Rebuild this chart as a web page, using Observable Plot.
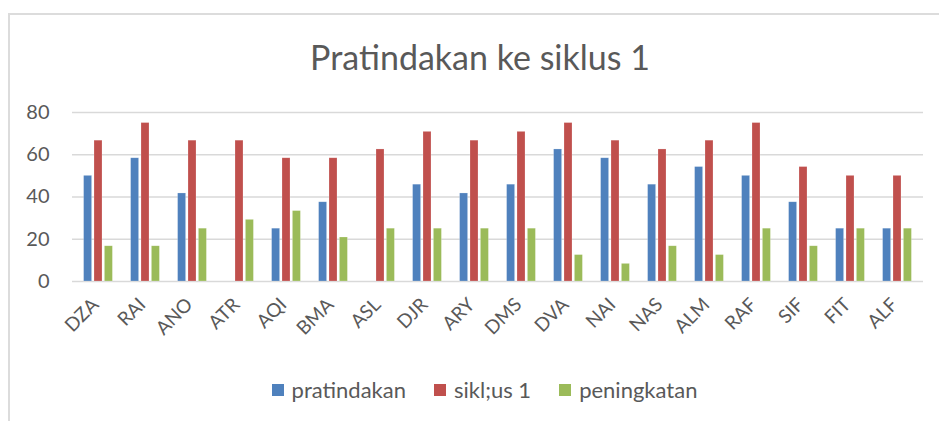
<!DOCTYPE html>
<html>
<head>
<meta charset="utf-8">
<script src="https://cdn.jsdelivr.net/npm/d3@7"></script>
<script src="https://cdn.jsdelivr.net/npm/@observablehq/plot@0.6"></script>
<style>
  html, body { margin: 0; padding: 0; background: #fff; }
  #wrap { position: relative; width: 939px; height: 421px; overflow: hidden; font-family: Lato, sans-serif; color: #595959; }
  #frame { position: absolute; left: 8px; top: 13px; width: 1000px; height: 500px; border-left: 2px solid #dcdcdc; border-top: 2px solid #dcdcdc; }
  #title { position: absolute; left: 8px; top: 36px; width: 944px; text-align: center; font-size: 34px; line-height: 42px; color: #595959; }
  #chart { position: absolute; left: 0; top: 90px; }
  #legend { position: absolute; left: 0; top: 377px; width: 969px; display: flex; justify-content: center; align-items: center; font-size: 22px; line-height: 26px; color: #595959; }
  .item { display: flex; align-items: center; margin: 0 14px; }
  .sw { width: 12px; height: 12px; margin-right: 8px; }
</style>
</head>
<body>
<div id="wrap">
  <div id="frame"></div>
  <div id="title">Pratindakan ke siklus 1</div>
  <div id="chart"></div>
  <div id="legend"></div>
</div>
<script>
const categories = ["DZA","RAI","ANO","ATR","AQI","BMA","ASL","DJR","ARY","DMS","DVA","NAI","NAS","ALM","RAF","SIF","FIT","ALF"];
const seriesNames = ["pratindakan", "sikl;us 1", "peningkatan"];
const pratindakan = [50, 58.33, 41.67, 0, 25, 37.5, 0, 45.83, 41.67, 45.83, 62.5, 58.33, 45.83, 54.17, 50, 37.5, 25, 25];
const siklus1 = [66.67, 75, 66.67, 66.67, 58.33, 58.33, 62.5, 70.83, 66.67, 70.83, 75, 66.67, 62.5, 66.67, 75, 54.17, 50, 50];
const peningkatan = [16.67, 16.67, 25, 29.17, 33.33, 20.83, 25, 25, 25, 25, 12.5, 8.33, 16.67, 12.5, 25, 16.67, 25, 25];
const yTicks = [0, 20, 40, 60, 80];
const colors = ["#4F81BD", "#C0504D", "#9BBB59"];

const seriesValues = [pratindakan, siklus1, peningkatan];
const offsets = [-10.4, 0, 10.4];

const chart = Plot.plot({
  width: 939,
  height: 270,
  marginLeft: 72,
  marginRight: 16,
  marginTop: 22,
  marginBottom: 79,
  style: {fontFamily: "Lato, sans-serif", color: "#595959", background: "transparent", overflow: "visible"},
  x: {domain: categories, paddingInner: 0.82, paddingOuter: 0.41, axis: null},
  y: {domain: [0, 80], axis: null},
  marks: [
    Plot.ruleY(yTicks, {stroke: "#d9d9d9", strokeWidth: 1.5}),
    Plot.axisY(yTicks, {tickSize: 0, tickPadding: 23, fontSize: 20, label: null, fill: "#595959"}),
    ...seriesValues.map((vals, j) =>
      Plot.barY(categories, {x: d => d, y: (d, i) => vals[i], fill: colors[j], dx: offsets[j], stroke: "#ffffff", strokeOpacity: 0.35, strokeWidth: 0.6})
    ),
    Plot.axisX({tickSize: 0, tickPadding: 20, dx: -3, tickRotate: -45, fontSize: 19, label: null, fill: "#595959"})
  ]
});
document.getElementById("chart").appendChild(chart);

const legend = document.getElementById("legend");
seriesNames.forEach((s, j) => {
  const it = document.createElement("div");
  it.className = "item";
  const sw = document.createElement("div");
  sw.className = "sw";
  sw.style.background = colors[j];
  const t = document.createElement("span");
  t.textContent = s;
  it.appendChild(sw); it.appendChild(t);
  legend.appendChild(it);
});
</script>
</body>
</html>
